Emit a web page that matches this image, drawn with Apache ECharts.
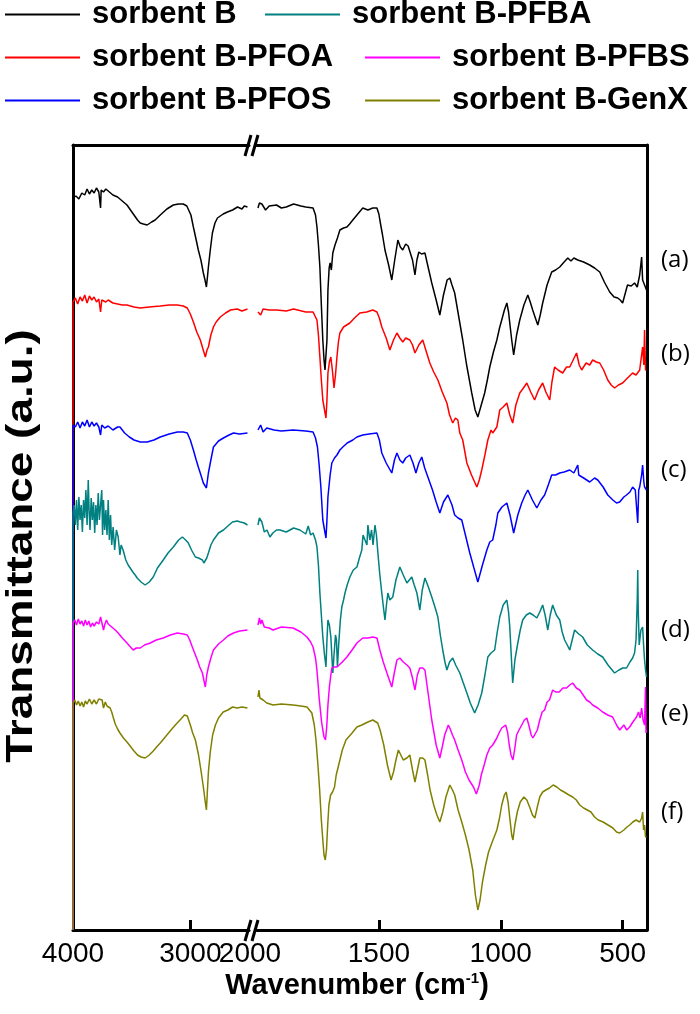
<!DOCTYPE html>
<html><head><meta charset="utf-8">
<script src="https://cdn.jsdelivr.net/npm/echarts@6/dist/echarts.min.js"></script>
<style>html,body{margin:0;padding:0;background:#fff}#c{width:700px;height:1014px}</style>
</head><body><div id="c"></div>
<script>
// Series names, colours
const names = ['sorbent B','sorbent B-PFBA','sorbent B-PFOA','sorbent B-PFBS','sorbent B-PFOS','sorbent B-GenX'];
const colors = {'sorbent B':'#000000','sorbent B-PFOA':'#ff0000','sorbent B-PFOS':'#0000ff','sorbent B-PFBA':'#008080','sorbent B-PFBS':'#ff00ff','sorbent B-GenX':'#808000'};
const drawOrder = ['sorbent B','sorbent B-PFOA','sorbent B-PFOS','sorbent B-PFBA','sorbent B-PFBS','sorbent B-GenX'];
const curveLabels = ['(a)','(b)','(c)','(d)','(e)','(f)'];
const ticksHigh = [4000, 3000];
const ticksLow = [2000, 1500, 1000, 500];
const yTitle = 'Transmittance (a.u.)';

// [wavenumber cm-1, transmittance a.u. (stacked, offset)]
const B_hi = [[4000,0],[4000,732],[3975,734],[3950,731],[3925,737],[3900,735],[3880,741],[3860,736],[3840,740],[3820,737],[3800,742],[3780,738],[3765,722],[3760,740],[3740,738],[3720,741],[3700,739],[3680,737],[3660,735],[3640,734],[3620,733],[3600,731],[3570,728],[3540,725],[3510,720],[3480,715],[3450,710],[3427,707],[3400,706],[3368,705],[3330,708],[3300,710],[3256,715],[3200,721],[3145,725],[3100,726],[3060,726],[3030,724],[3017,722],[2995,715],[2974,703],[2950,690],[2932,680],[2910,670],[2889,657],[2875,650],[2863,643],[2855,652],[2846,663],[2830,680],[2812,697],[2790,707],[2769,712],[2720,716],[2684,718],[2640,720],[2598,723],[2560,721],[2540,724],[2513,723]];
const B_lo = [[1996,722],[1990,727],[1980,726],[1965,720],[1950,724],[1920,725],[1900,722],[1880,723],[1850,726],[1820,724],[1800,723],[1770,722],[1760,715],[1754,703],[1748,685],[1742,663],[1736,625],[1730,590],[1725,570],[1721,560],[1717,575],[1713,590],[1709,640],[1704,662],[1700,667],[1695,660],[1689,677],[1680,685],[1670,692],[1660,700],[1645,702],[1631,703],[1620,706],[1607,710],[1590,715],[1566,722],[1545,720],[1525,722],[1508,722],[1500,716],[1496,710],[1485,695],[1475,680],[1460,665],[1447,650],[1435,670],[1422,690],[1412,683],[1402,680],[1390,686],[1380,684],[1373,683],[1362,670],[1352,655],[1344,670],[1336,678],[1325,676],[1311,677],[1300,665],[1283,647],[1265,630],[1250,615],[1235,635],[1220,650],[1209,652],[1200,645],[1189,637],[1170,610],[1156,590],[1140,565],[1119,537],[1105,520],[1094,513],[1080,525],[1066,537],[1055,550],[1045,563],[1030,578],[1016,590],[1005,602],[996,610],[985,620],[975,627],[968,618],[963,607],[955,590],[947,575],[935,595],[922,610],[905,625],[889,635],[879,628],[869,620],[858,612],[848,605],[838,615],[828,627],[810,645],[791,658],[775,660],[758,663],[740,668],[725,672],[712,669],[700,672],[684,670],[660,668],[635,665],[615,662],[594,658],[575,648],[553,638],[535,633],[520,632],[510,630],[500,627],[490,636],[480,645],[465,644],[451,647],[440,643],[430,655],[422,673],[418,650],[410,645],[402,640]];

const PFOA_hi = [[4000,0],[4000,628],[3980,632],[3960,626],[3940,633],[3920,629],[3900,635],[3880,627],[3860,634],[3840,630],[3820,633],[3800,628],[3780,631],[3765,618],[3755,630],[3720,628],[3700,630],[3660,627],[3620,626],[3580,625],[3540,625],[3480,623],[3427,622],[3350,623],[3256,624],[3180,625],[3111,625],[3060,624],[3026,622],[3000,616],[2974,608],[2945,598],[2915,590],[2890,580],[2872,573],[2858,580],[2846,583],[2825,595],[2803,603],[2780,608],[2744,613],[2700,617],[2658,620],[2600,621],[2560,619],[2513,621]];
const PFOA_lo = [[1996,618],[1985,615],[1975,621],[1950,620],[1918,620],[1880,619],[1850,621],[1800,618],[1770,618],[1754,610],[1748,595],[1742,573],[1736,550],[1730,530],[1723,520],[1717,512],[1713,530],[1709,557],[1703,568],[1697,573],[1690,558],[1684,542],[1678,555],[1672,573],[1666,588],[1660,597],[1645,603],[1619,607],[1600,612],[1578,617],[1550,618],[1525,620],[1508,618],[1498,612],[1488,603],[1470,592],[1455,580],[1440,590],[1426,597],[1414,592],[1402,588],[1390,592],[1373,590],[1362,585],[1352,577],[1336,585],[1320,590],[1305,578],[1291,567],[1275,558],[1258,550],[1240,538],[1221,527],[1210,515],[1197,507],[1186,512],[1176,510],[1168,497],[1156,490],[1139,467],[1120,455],[1098,443],[1088,450],[1078,460],[1065,475],[1053,490],[1040,500],[1033,497],[1016,503],[1004,520],[990,523],[975,527],[963,515],[951,507],[938,525],[922,537],[907,542],[893,547],[877,538],[861,530],[845,540],[828,547],[815,538],[799,530],[790,548],[779,563],[765,560],[746,557],[730,563],[717,563],[703,570],[689,577],[678,565],[668,560],[650,567],[635,565],[623,570],[608,568],[594,567],[578,560],[561,550],[547,545],[533,542],[517,545],[500,547],[480,552],[459,557],[445,555],[430,560],[418,583],[413,565],[410,600],[406,560],[402,560]];

const PFOS_hi = [[4000,0],[4000,505],[3980,503],[3960,508],[3940,502],[3920,508],[3900,504],[3880,510],[3860,503],[3840,508],[3820,504],[3800,507],[3780,503],[3765,495],[3755,505],[3730,502],[3700,504],[3660,500],[3620,503],[3600,503],[3560,497],[3520,493],[3480,490],[3427,488],[3368,488],[3310,490],[3256,493],[3180,496],[3111,498],[3060,498],[3026,497],[3000,490],[2974,480],[2950,470],[2932,463],[2910,455],[2889,447],[2863,442],[2846,457],[2825,470],[2803,483],[2760,489],[2718,492],[2670,495],[2632,497],[2580,496],[2513,497]];
const PFOS_lo = [[1996,500],[1985,505],[1975,498],[1960,502],[1930,500],[1900,499],[1852,500],[1800,499],[1770,498],[1760,492],[1752,483],[1745,465],[1738,443],[1730,410],[1723,400],[1717,392],[1713,410],[1709,433],[1700,455],[1693,467],[1682,472],[1672,475],[1660,480],[1648,483],[1630,487],[1607,490],[1590,493],[1566,495],[1540,496],[1508,497],[1498,490],[1488,477],[1470,467],[1447,457],[1436,470],[1426,477],[1414,470],[1402,467],[1390,472],[1373,475],[1360,467],[1348,457],[1336,467],[1324,473],[1312,462],[1299,453],[1280,440],[1265,428],[1250,417],[1235,428],[1217,435],[1200,425],[1189,415],[1175,412],[1160,410],[1145,395],[1127,377],[1110,362],[1094,348],[1075,365],[1057,380],[1045,388],[1033,390],[1020,405],[1012,417],[995,423],[975,427],[962,415],[947,397],[930,415],[914,427],[900,435],[889,440],[870,430],[852,422],[835,430],[820,435],[805,445],[791,455],[775,455],[758,457],[740,458],[717,460],[700,457],[684,465],[680,455],[660,452],[635,448],[615,452],[602,450],[580,443],[561,435],[540,430],[525,427],[512,428],[495,433],[484,435],[470,438],[459,443],[448,440],[438,407],[434,440],[430,443],[422,455],[418,465],[413,448],[410,443],[402,440]];

const PFBA_hi = [[4000,0],[4000,417],[3990,425],[3980,405],[3970,430],[3960,400],[3950,433],[3940,410],[3930,425],[3920,398],[3910,430],[3900,412],[3890,440],[3880,405],[3870,450],[3863,420],[3855,400],[3845,432],[3835,410],[3825,428],[3815,397],[3805,425],[3795,405],[3785,437],[3775,410],[3765,425],[3755,440],[3748,395],[3740,430],[3730,400],[3720,420],[3710,395],[3700,430],[3690,390],[3680,415],[3670,385],[3658,403],[3645,380],[3630,400],[3615,393],[3600,375],[3590,385],[3573,380],[3550,370],[3530,365],[3513,363],[3490,358],[3470,355],[3453,352],[3420,348],[3385,345],[3350,348],[3316,353],[3280,362],[3231,370],[3190,377],[3145,383],[3100,390],[3068,393],[3040,390],[3017,387],[2990,380],[2957,373],[2930,372],[2897,370],[2885,367],[2872,365],[2860,372],[2846,377],[2825,385],[2803,390],[2760,397],[2718,400],[2680,404],[2641,408],[2600,409],[2573,408],[2540,407],[2513,405]];
const PFBA_lo = [[1996,405],[1990,412],[1980,408],[1970,398],[1959,400],[1947,393],[1935,397],[1920,400],[1906,400],[1880,398],[1850,402],[1824,400],[1800,396],[1790,404],[1780,395],[1770,397],[1760,390],[1754,383],[1748,365],[1742,337],[1736,315],[1730,293],[1723,275],[1717,263],[1713,290],[1709,310],[1703,305],[1697,293],[1692,270],[1689,257],[1684,275],[1678,295],[1674,290],[1670,263],[1665,285],[1658,310],[1652,323],[1645,330],[1639,337],[1630,345],[1619,353],[1605,360],[1590,363],[1580,372],[1570,380],[1565,395],[1557,397],[1549,385],[1545,405],[1537,390],[1530,400],[1524,385],[1516,405],[1510,395],[1504,377],[1496,355],[1488,337],[1480,320],[1475,310],[1469,325],[1463,337],[1455,330],[1443,333],[1430,350],[1414,363],[1400,355],[1385,347],[1375,350],[1365,353],[1355,345],[1344,337],[1332,320],[1322,340],[1311,352],[1297,343],[1283,333],[1270,323],[1258,313],[1248,295],[1238,280],[1229,268],[1221,260],[1210,268],[1197,272],[1185,265],[1168,257],[1155,248],[1139,237],[1125,227],[1107,217],[1093,225],[1078,237],[1065,255],[1053,273],[1040,277],[1025,280],[1015,297],[1004,313],[990,325],[975,330],[968,318],[963,303],[957,275],[951,247],[942,270],[930,287],[920,300],[910,310],[895,315],[881,317],[867,315],[852,312],[840,318],[828,325],[818,315],[807,300],[797,315],[787,325],[772,315],[758,310],[748,298],[738,290],[727,285],[717,280],[707,290],[697,300],[680,296],[664,293],[645,285],[623,280],[602,276],[582,273],[560,265],[533,257],[515,260],[500,262],[484,262],[470,268],[459,272],[451,277],[445,290],[440,330],[438,360],[436,320],[432,285],[430,283],[425,300],[418,303],[414,285],[410,270],[406,260],[402,253]];

const PFBS_hi = [[4000,0],[4000,307],[3985,310],[3970,305],[3955,311],[3940,306],[3925,309],[3910,304],[3895,310],[3880,305],[3865,309],[3850,303],[3835,307],[3820,304],[3800,308],[3780,306],[3765,313],[3752,312],[3740,300],[3730,305],[3715,310],[3700,306],[3684,308],[3660,302],[3640,300],[3615,297],[3580,292],[3540,287],[3510,283],[3487,280],[3460,282],[3427,282],[3390,285],[3342,287],[3290,290],[3231,292],[3170,295],[3111,297],[3060,296],[3026,295],[3005,290],[2983,283],[2960,276],[2940,270],[2920,263],[2897,257],[2885,250],[2872,243],[2860,255],[2846,263],[2825,272],[2803,280],[2760,286],[2718,290],[2680,294],[2632,297],[2580,299],[2513,300]];
const PFBS_lo = [[1996,305],[1990,312],[1985,306],[1980,310],[1970,303],[1950,302],[1934,300],[1900,303],[1852,302],[1820,298],[1795,293],[1780,288],[1770,283],[1760,272],[1755,262],[1750,248],[1745,232],[1740,220],[1735,208],[1730,200],[1725,193],[1719,190],[1714,203],[1709,225],[1703,243],[1697,255],[1693,262],[1683,263],[1672,263],[1650,268],[1631,273],[1610,280],[1590,287],[1566,292],[1545,292],[1525,293],[1508,292],[1496,280],[1482,268],[1467,257],[1447,243],[1436,258],[1426,270],[1414,272],[1400,268],[1385,265],[1373,262],[1362,252],[1352,240],[1342,255],[1332,262],[1320,262],[1311,260],[1297,235],[1283,210],[1265,185],[1250,172],[1240,183],[1230,195],[1215,205],[1209,202],[1198,195],[1189,190],[1175,180],[1160,170],[1145,158],[1130,150],[1112,143],[1100,136],[1088,145],[1080,155],[1068,165],[1057,175],[1045,182],[1033,185],[1016,192],[1005,198],[996,202],[980,205],[972,198],[965,185],[958,175],[950,170],[942,182],[935,195],[925,200],[914,205],[903,210],[893,212],[885,205],[875,195],[868,192],[860,190],[850,200],[840,210],[830,218],[820,220],[810,228],[800,230],[787,240],[775,238],[760,238],[745,242],[730,242],[717,245],[705,247],[690,242],[676,240],[662,235],[648,230],[635,228],[623,225],[602,222],[582,218],[561,215],[541,213],[525,205],[512,200],[495,205],[483,200],[471,203],[458,208],[443,213],[435,218],[428,212],[422,222],[416,210],[410,205],[406,243],[404,197],[402,200]];

const GenX_hi = [[4000,0],[4000,227],[3985,230],[3970,225],[3955,229],[3940,224],[3925,228],[3910,223],[3895,229],[3880,226],[3860,231],[3840,226],[3820,230],[3800,226],[3780,231],[3765,232],[3752,230],[3740,222],[3725,228],[3710,224],[3700,225],[3684,222],[3670,218],[3658,213],[3640,206],[3620,201],[3600,197],[3570,192],[3540,188],[3513,184],[3480,179],[3450,175],[3420,173],[3385,172],[3350,175],[3316,179],[3280,184],[3256,187],[3200,195],[3150,202],[3128,205],[3080,211],[3050,215],[3026,214],[3000,205],[2980,197],[2957,190],[2930,175],[2910,160],[2889,143],[2875,130],[2863,120],[2855,138],[2846,158],[2830,178],[2810,195],[2786,205],[2760,212],[2720,218],[2680,220],[2640,223],[2600,222],[2560,223],[2513,222]];
const GenX_lo = [[1996,233],[1992,240],[1988,232],[1975,230],[1960,227],[1934,225],[1900,226],[1852,225],[1820,224],[1795,223],[1775,217],[1765,205],[1758,190],[1750,165],[1743,140],[1736,110],[1730,90],[1725,75],[1720,70],[1715,80],[1710,105],[1705,125],[1698,135],[1690,138],[1682,143],[1675,155],[1665,165],[1650,180],[1635,190],[1610,197],[1590,203],[1570,205],[1545,208],[1525,210],[1505,207],[1495,200],[1480,185],[1465,165],[1450,150],[1440,158],[1430,170],[1420,180],[1410,175],[1400,170],[1385,172],[1373,175],[1362,160],[1352,148],[1342,160],[1332,172],[1320,172],[1311,170],[1300,155],[1290,140],[1275,125],[1262,115],[1250,108],[1238,118],[1225,133],[1209,145],[1198,140],[1189,135],[1175,120],[1160,108],[1145,95],[1130,80],[1115,60],[1104,35],[1094,20],[1085,30],[1075,48],[1062,65],[1050,78],[1035,88],[1016,100],[1005,112],[996,125],[985,135],[978,138],[970,128],[962,110],[955,95],[950,90],[942,105],[932,118],[920,128],[905,133],[893,130],[880,122],[870,115],[860,112],[850,123],[840,133],[828,138],[815,140],[800,142],[785,145],[770,143],[755,140],[740,138],[720,135],[705,133],[690,130],[676,125],[660,122],[645,120],[630,118],[615,113],[600,110],[580,108],[560,105],[540,102],[525,98],[512,97],[495,100],[482,103],[471,105],[458,108],[445,110],[438,110],[430,108],[422,112],[418,118],[414,100],[410,105],[406,93],[402,93]];

const spectra = {
  'sorbent B': [B_hi, B_lo],
  'sorbent B-PFOA': [PFOA_hi, PFOA_lo],
  'sorbent B-PFOS': [PFOS_hi, PFOS_lo],
  'sorbent B-PFBA': [PFBA_hi, PFBA_lo],
  'sorbent B-PFBS': [PFBS_hi, PFBS_lo],
  'sorbent B-GenX': [GenX_hi, GenX_lo]
};

const FONT = 'Liberation Sans, Arial, sans-serif';
const PL = 73, PT = 145, PB = 930, BR1 = 249, BR2 = 257, PR = 647;

const series = [];
drawOrder.forEach(n => {
  [0,1].forEach(k => {
    series.push({
      name: n, type: 'line', xAxisIndex: k, yAxisIndex: k,
      data: spectra[n][k], symbol: 'none', showSymbol: false, animation: false,
      lineStyle: {color: colors[n], width: 1.5}, itemStyle: {color: colors[n]},
      sampling: null, z: 3
    });
  });
});

// legend rows (2 items per row)
const legendPos = [
  {n:'sorbent B', left:5, top:-1},
  {n:'sorbent B-PFBA', left:265, top:-1},
  {n:'sorbent B-PFOA', left:5, top:42},
  {n:'sorbent B-PFBS', left:365, top:42},
  {n:'sorbent B-PFOS', left:5, top:85},
  {n:'sorbent B-GenX', left:365, top:85}
];
const legends = legendPos.map(p => ({
  data: [p.n], left: p.left, top: p.top, orient: 'horizontal', selectedMode: false,
  padding: 0, icon: 'rect', itemWidth: 75, itemHeight: 2,
  textStyle: {fontFamily: FONT, fontSize: 31, fontWeight: 'bold', color: '#000', padding: [0,0,0,7]}
}));

const axisLineStyle = {show: true, lineStyle: {color: '#000', width: 3}};
const labelY = [263, 357, 473, 633, 717, 815];

const breakMark = (cx, cy) => ([
  {type:'line', shape:{x1:cx-7, y1:cy+11, x2:cx-1, y2:cy-10}, style:{stroke:'#000', lineWidth:3}, z:10},
  {type:'line', shape:{x1:cx+0, y1:cy+11, x2:cx+6, y2:cy-10}, style:{stroke:'#000', lineWidth:3}, z:10}
]);

const option = {
  backgroundColor: '#fff',
  animation: false,
  legend: legends,
  title: {
    text: 'Wavenumber (cm{sup|-1})', left: (PL+PR)/2 - 8, top: 966, textAlign: 'center',
    textStyle: {fontFamily: FONT, fontSize: 29, fontWeight: 'bold', color: '#000',
      rich: {sup: {fontFamily: FONT, fontSize: 15, fontWeight: 'bold', color: '#000', verticalAlign: 'top', padding:[0,0,14,0]}}}
  },
  grid: [
    {left: PL, top: PT, width: BR1-PL, height: PB-PT, outerBoundsMode: 'none', containLabel: false},
    {left: BR2, top: PT, width: PR-BR2, height: PB-PT, outerBoundsMode: 'none', containLabel: false}
  ],
  xAxis: [
    {gridIndex: 0, type: 'value', min: 2500, max: 4000, inverse: true, position: 'bottom',
      axisLine: axisLineStyle, splitLine: {show: false},
      axisTick: {show: true, inside: true, length: 10, lineStyle: {width: 3, color:'#000'}, customValues: [3000]},
      axisLabel: {customValues: ticksHigh, fontFamily: FONT, fontSize: 28, color: '#000', margin: 10,
        formatter: v => String(v)}},
    {gridIndex: 1, type: 'value', min: 400, max: 2000, inverse: true, position: 'bottom',
      axisLine: axisLineStyle, splitLine: {show: false},
      axisTick: {show: true, inside: true, length: 10, lineStyle: {width: 3, color:'#000'}, customValues: [1500, 1000, 500]},
      axisLabel: {customValues: ticksLow, fontFamily: FONT, fontSize: 28, color: '#000', margin: 10,
        formatter: v => v === 2000 ? '{s|2000}' : String(v),
        rich: {s: {fontFamily: FONT, fontSize: 28, color: '#000', padding: [0, 14, 0, 0]}}}},
    {gridIndex: 0, type: 'value', min: 2500, max: 4000, inverse: true, position: 'top',
      axisLine: axisLineStyle, axisTick: {show: false}, axisLabel: {show: false}, splitLine: {show: false}},
    {gridIndex: 1, type: 'value', min: 400, max: 2000, inverse: true, position: 'top',
      axisLine: axisLineStyle, axisTick: {show: false}, axisLabel: {show: false}, splitLine: {show: false}}
  ],
  yAxis: [
    {gridIndex: 0, type: 'value', min: 0, max: 785, position: 'left',
      axisLine: axisLineStyle, axisTick: {show: false}, axisLabel: {show: false}, splitLine: {show: false}},
    {gridIndex: 1, type: 'value', min: 0, max: 785, position: 'right',
      axisLine: axisLineStyle, axisTick: {show: false}, axisLabel: {show: false}, splitLine: {show: false}}
  ],
  graphic: [
    ...breakMark(252, PT), ...breakMark(252, PB),
    {type: 'text', x: 22, y: 546, rotation: Math.PI / 2, scaleX: 1.24, scaleY: 1,
      style: {text: yTitle, fontFamily: FONT, fontSize: 37, fontWeight: 'bold', fill: '#000',
        align: 'center', verticalAlign: 'middle'}},
    ...curveLabels.map((t, i) => ({type: 'text', left: 661, top: labelY[i] - 15,
      style: {text: t, fontFamily: 'Open Sans, Liberation Sans, sans-serif', fontSize: 24, fill: '#000'}}))
  ],
  series: series
};
const chart = echarts.init(document.getElementById('c'), null, {renderer: 'canvas'});
chart.setOption(option);
</script></body></html>
